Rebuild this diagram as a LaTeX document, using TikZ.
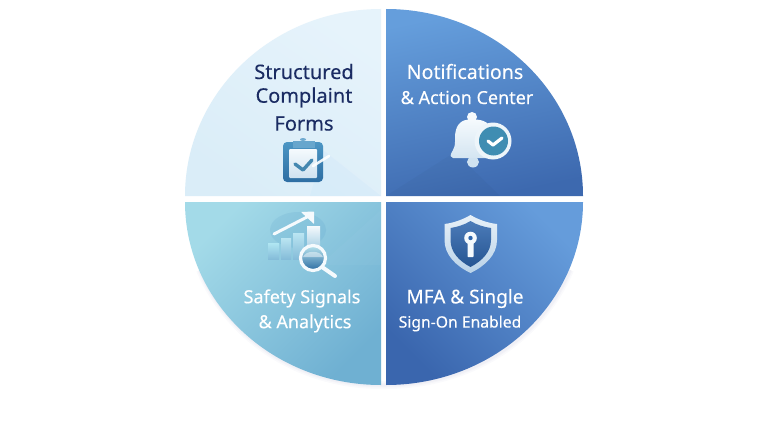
\documentclass[tikz,border=0pt]{standalone}
\usepackage{fontspec}
\setmainfont[FakeBold=0.2]{Noto Sans}
\usetikzlibrary{calc}
\definecolor{navy}{HTML}{1B2C63}
\definecolor{tlA}{HTML}{E6F3FB}
\definecolor{tlB}{HTML}{DAEDF8}
\definecolor{trA}{HTML}{659EDC}
\definecolor{trB}{HTML}{3D69AF}
\definecolor{blA}{HTML}{A3DAE8}
\definecolor{blB}{HTML}{6FB0D2}
\definecolor{brA}{HTML}{659CDB}
\definecolor{brB}{HTML}{3A66AE}
\definecolor{icoA}{HTML}{4C96C4}
\definecolor{icoB}{HTML}{2E6EA3}
\definecolor{paleA}{HTML}{F5FAFD}
\definecolor{paleB}{HTML}{CFE2F0}
\definecolor{teal}{HTML}{3F8DB2}
\definecolor{shieldA}{HTML}{E8F1F8}
\definecolor{shieldB}{HTML}{B9D2E8}
\definecolor{shieldC}{HTML}{2C64AC}
\tikzset{
  darklabel/.style={text=navy,font=\fontsize{20}{22}\selectfont,inner sep=0pt,anchor=center},
  lightlabel/.style={text=white,font=\fontsize{18}{20}\selectfont,inner sep=0pt,anchor=center},
  biglabel/.style={text=white,font=\fontsize{19.6}{22}\selectfont,inner sep=0pt,anchor=center},
  mfalabel/.style={text=white,font=\fontsize{19}{22}\selectfont,inner sep=0pt,anchor=center},
  smalllabel/.style={text=white,font=\fontsize{15.7}{20}\selectfont,inner sep=0pt,anchor=center},
  softer/.style={opacity=.02,line width=#1,line join=round},
  barfill/.style={top color=#1,bottom color=blB!85!white,shading angle=0},
  icoline/.style={line cap=round,line join=round},
}
\begin{document}
\begin{tikzpicture}[x=1pt,y=-1pt]
\useasboundingbox (0,0) rectangle (768,428);
\fill[white] (0,0) rectangle (768,428);
% soft drop shadow
\foreach \w in {8,5,3}{
  \draw[softer=\w pt,color=blue!50!black] (200,270) .. controls (230,340) and (300,385) .. (381,385) -- (386,385) .. controls (470,385) and (540,340) .. (570,270);
}
% quadrants
\shade[top color=tlA,bottom color=tlB,shading angle=-35] (381,196) -- (185,196) .. controls (185,92.7) and (272.7,9) .. (381,9) -- cycle;
\shade[top color=trA,bottom color=trB,shading angle=12] (386,196) -- (583,196) .. controls (583,92.7) and (494.8,9) .. (386,9) -- cycle;
\shade[top color=blA,bottom color=blB,shading angle=45] (381,202) -- (185,202) .. controls (185,303) and (272.7,385) .. (381,385) -- cycle;
\shade[top color=brA,bottom color=brB,shading angle=-45] (386,202) -- (583,202) .. controls (583,303) and (494.8,385) .. (386,385) -- cycle;
% faint facets
\fill[blue!40!cyan,opacity=.025] (323,150) -- (381,196) -- (310,196) -- cycle;
\fill[black,opacity=.025] (386,196) -- (455,152) -- (500,196) -- cycle;
\fill[white,opacity=.03] (381,210) -- (320,265) -- (381,265) -- cycle;
% ---------- clipboard
\shade[top color=icoA,bottom color=icoB,rounded corners=4pt] (283,142) rectangle (323,182);
\fill[icoA!80!white] (303,139.5) ellipse (3 and 1.5);
\fill[icoA!85!white] (293,141) rectangle (315,148);
\shade[top color=paleA,bottom color=paleB,rounded corners=1pt] (289,149) rectangle (317,178);
\draw[icoA!90!black,line width=3.4pt,icoline] (295,164) -- (303,170) -- (312,160);
\draw[white,opacity=.9,line width=2.6pt,icoline] (313,166) -- (329,156);
% ---------- bell
\fill[paleA] (472,117) circle (5);
\fill[paleB] (473,162) ellipse (6 and 5.5);
\shade[top color=paleA,bottom color=paleB!90!white,rounded corners=2pt] (451,158) .. controls (450,153) and (455,150) .. (455,140) .. controls (455,126) and (460,119.5) .. (472,119.5) .. controls (485,119.5) and (490,124) .. (492,132) -- (500,158) -- cycle;
\fill[paleA!80!paleB] (493,141) circle (18.5);
\fill[teal] (493.5,141) circle (14.5);
\draw[white,line width=3.2pt,icoline] (488,141) -- (493,145) -- (502,138);
% ---------- chart
\fill[icoA,opacity=.14] (298,230) ellipse (28 and 18);
\shade[barfill=paleB!85!cyan] (268,243) rectangle (279,259);
\shade[barfill=paleB!90!cyan] (281,238) rectangle (291,259);
\shade[barfill=paleB!90!cyan] (293,233) rectangle (304,259);
\shade[barfill=paleA] (307,226) rectangle (320,258);
\draw[paleA,line width=3pt,icoline] (274,234) -- (309,216);
\fill[paleA,rounded corners=.6pt] (314,211.5) -- (301,212) -- (314,224) -- cycle;
\shade[top color=blA!80!white,bottom color=icoB,shading angle=0] (313,258) circle (12);
\draw[paleA,line width=3.2pt] (313,258) circle (12.5);
\draw[paleA,line width=4pt,icoline] (322,267) -- (335,276);
\fill[paleA,opacity=.5] (303,257) -- (323,257) .. controls (320,250) and (306,250) .. (303,257) -- cycle;
% ---------- shield
\shade[top color=shieldA,bottom color=shieldB] (470.5,215) .. controls (462,220) and (453,223) .. (444.5,224) -- (444.5,240) .. controls (444.5,255) and (456,266) .. (470.5,273) .. controls (485,266) and (497,255) .. (497,240) -- (497,224) .. controls (488,223) and (479,220) .. (470.5,215) -- cycle;
\shade[top color=shieldC!85!white,bottom color=shieldC!85!black] (470.5,221) .. controls (464,225) and (457,227) .. (450.5,228) -- (450.5,240) .. controls (450.5,252) and (459,261) .. (470.5,267) .. controls (482,261) and (491,252) .. (491,240) -- (491,228) .. controls (484,227) and (477,225) .. (470.5,221) -- cycle;
\fill[paleA,rounded corners=.6pt] (467.5,240) rectangle (473.5,257);
\fill[paleA] (470.5,238) circle (6.3);
\fill[shieldC] (470.5,238) circle (2.2);
% ---------- texts
\node[darklabel] (t1a) at (304,71.5) {Structured};
\node[darklabel] (t1b) at (304,97.5) {Complaint};
\node[darklabel] (t1c) at (304,123.5) {Forms};
\node[biglabel] (t2a) at (465,71.5) {Notifications};
\node[lightlabel] (t2b) at (467,97.5) {\& Action Center};
\node[lightlabel] (t3a) at (302,298.5) {Safety Signals};
\node[lightlabel] (t3b) at (305,323.5) {\& Analytics};
\node[mfalabel] (t4a) at (465,298.5) {MFA \& Single};
\node[smalllabel] (t4b) at (460,323.5) {Sign-On Enabled};
\end{tikzpicture}
\end{document}
